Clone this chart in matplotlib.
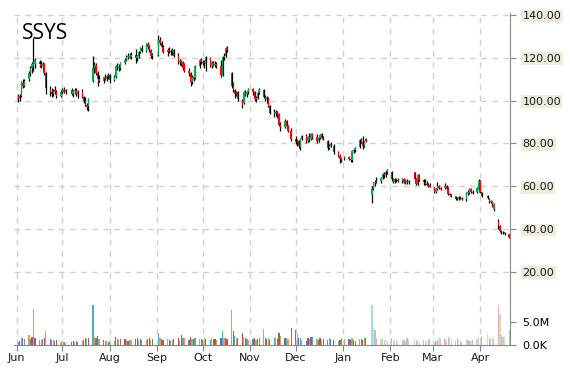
import numpy as np
import pandas as pd
import matplotlib
matplotlib.use("Agg")
import matplotlib.pyplot as plt
import matplotlib.dates as mdates
from matplotlib import colors

# daily data, Jun 2014 - Apr 2015
holidays = ["2014-07-04", "2014-09-01", "2014-11-27", "2014-12-25",
            "2015-01-01", "2015-01-19", "2015-02-16", "2015-04-03"]
dates = pd.bdate_range("2014-06-02", "2015-04-20", freq="C", holidays=holidays)

opens = [
    # Jun
    102, 101, 102, 108, 107, 110, 113, 115, 116, 117, 118, 117, 116, 117, 113, 105, 104, 103, 105, 104, 102,
    # Jul
    104, 105, 104, 105, 103, 104.5, 105, 103, 104, 101.5, 100, 98, 97.5, 109, 115, 116.5, 113, 110, 109, 111, 110, 111.5,
    # Aug
    112, 109.5, 111, 116, 115.5, 115, 117.5, 119, 120.5, 121, 120.5, 121.5, 120, 121, 122.5, 124.5, 123, 126.5, 125, 123.5, 121,
    # Sep
    121.5, 128.5, 127, 125, 122.5, 123.5, 123, 122.5, 123.5, 121, 118, 118.5, 118, 117, 114, 113, 108.5, 111, 110.5, 116, 119,
    # Oct
    118, 117.5, 117, 120, 116, 117.5, 116.5, 117, 116, 112, 120.5, 121, 124.5, 113, 108, 105, 103, 104, 100, 99, 104, 103, 104,
    # Nov
    105.5, 104, 100.5, 101, 103.5, 105, 101.5, 100.5, 101, 97.5, 94, 94.5, 94, 93.5, 88.5, 87.5, 90.5, 88, 86,
    # Dec
    82, 80.5, 81, 78.5, 82, 83.5, 81, 83, 82, 84.5, 83, 81, 82.5, 84.5, 82.5, 81, 78, 79, 79, 76, 74, 72.5,
    # Jan
    73, 73.5, 72.5, 72, 76.5, 77, 78.5, 81.5, 80.5, 79, 82, 56, 58.5, 61.5, 62, 62.5, 64, 65.5, 65, 66.5,
    # Feb
    66.5, 63.5, 62, 63.5, 63, 62.5, 63.5, 62, 62.5, 62, 66.5, 63.5, 61, 65, 63, 62, 61, 60.5, 60.5,
    # Mar
    59.5, 57.5, 58.5, 60, 59, 59, 60, 58.5, 56.5, 56, 55.5, 54.5, 54, 55, 54.5, 54, 57, 57, 58.5, 57.5, 57.5, 58,
    # Apr
    62.5, 57.5, 55.5, 54, 52.5, 52.5, 49.5, 43.5, 41.5, 39, 38.5, 37.8, 37.5,
]
highs = [
    103, 103, 109, 110, 110, 114, 116, 118, 129, 120, 119, 118.5, 118, 117.5, 113.5, 107, 106, 105.5, 107, 105, 105,
    106, 106.5, 105.5, 106, 105, 106, 106, 105, 105.5, 102, 101.5, 99, 101, 121, 118, 117.5, 114, 112, 111, 112.5, 112, 113,
    112.5, 112, 116.5, 117.5, 117, 118, 120, 121.5, 122, 122, 122.5, 124, 121.5, 123, 125, 126, 127, 127.5, 126, 124, 122,
    130.5, 129.5, 128, 126, 124.5, 125, 124, 124.5, 124, 122, 119.5, 119, 118.5, 117.5, 115, 113.5, 112, 112, 116.5, 119.5, 120,
    119, 119, 121, 120.5, 118.5, 118.5, 118.5, 118, 119, 121, 122, 125, 125.5, 113.5, 108.5, 105.5, 104.5, 104.5, 100.5, 104.5, 105, 104.5, 106,
    106, 104.5, 102, 104, 106, 105.5, 102.5, 102, 101.5, 98, 96, 95.5, 95, 94, 90, 91.5, 91, 88.5, 87,
    83.5, 82, 81.5, 82.5, 84, 84.5, 83.5, 85, 85, 85, 84.5, 83, 84.5, 85, 83.5, 81.5, 79.5, 80.5, 79.5, 76.5, 75, 73.5,
    74, 74, 73.5, 77, 77.5, 78.5, 82, 82.5, 83.5, 81, 82.5, 60, 62, 63, 64.5, 64.5, 66, 66.5, 67.5, 68,
    67, 64, 64, 64, 64, 64, 64, 63.5, 63.5, 63, 66.5, 64, 65.5, 65.5, 63.5, 63.3, 62.5, 61.5, 61.5,
    59.5, 59, 62, 60.5, 59.5, 61.5, 60.5, 59.5, 57, 56.5, 55.6, 55, 55.5, 55.5, 55, 57.5, 58, 59, 59, 58, 59.5, 63.5,
    63, 57.5, 56, 54.5, 53.4, 53, 52, 44.5, 42, 39.5, 39, 38.7, 37.8,
]
lows = [
    99.5, 100, 101.5, 106, 106.5, 109, 111.5, 113, 114, 115, 115.5, 115, 114.5, 112, 103, 102, 101.5, 102, 103, 101, 101.5,
    103, 103.5, 103, 102.5, 101.5, 103, 102, 101, 101, 99, 97.5, 95.5, 95, 108.5, 113, 112, 107, 108.5, 108, 109.5, 109, 110,
    108, 109, 110.5, 114.5, 114, 114.5, 117, 118.5, 119.5, 120, 119.5, 117.5, 118.5, 120, 122, 122.5, 122.5, 124, 122.5, 120, 119.5,
    121, 126, 124.5, 122, 121, 122, 121.5, 121.5, 120.5, 117, 116.5, 116, 114.5, 113.5, 111.5, 107, 107.5, 109, 110, 115, 117,
    116.5, 115, 114, 115.5, 115, 116, 115.5, 115, 111, 111.5, 119, 120.5, 122.5, 106, 104, 101, 102, 100, 96.5, 98.5, 102, 101.5, 103,
    102.5, 100, 99.5, 100.5, 103, 101, 100, 99, 97, 93.5, 92.5, 93, 92, 88, 86, 87, 86.5, 85.5, 81,
    79.5, 79, 78, 77, 81.5, 80, 80.5, 80.5, 81.5, 82, 80, 80.5, 82, 82, 81.5, 77, 77.5, 78.5, 75, 73.5, 71, 71.5,
    72, 72, 71.5, 71.5, 75.5, 76, 78, 80, 77.5, 78.5, 80.5, 52, 58, 60, 61.5, 61.5, 63.5, 64, 64.5, 65.5,
    62.5, 61.5, 61.5, 62, 62, 61.5, 61.5, 61, 61, 61, 63, 60.5, 60.5, 62.5, 60.5, 60.5, 60.4, 59.5, 59.5,
    57, 57, 58, 58.5, 58, 58.5, 58, 55.7, 55.5, 55, 53.5, 53.5, 53.5, 54, 53.5, 53, 56, 56.5, 57, 56.5, 57, 57.5,
    57, 55, 54, 52, 52, 50.5, 48.5, 40, 38.5, 37.8, 37.5, 37.3, 35.8,
]
closes = [
    101, 102, 108.5, 107, 109, 113, 115, 117, 118, 119, 117, 116, 117, 113, 106, 104, 103, 104.5, 104, 102, 104,
    105, 104, 105, 103, 104.5, 105, 103, 104, 101.5, 100, 98, 97, 100.5, 115, 116.5, 113, 110, 109, 111, 110, 111.5, 112,
    109.5, 111, 116, 115.5, 115, 117.5, 119, 120.5, 121, 120.5, 121.5, 120, 121, 122.5, 124.5, 123, 126.5, 125, 123.5, 121, 121.5,
    128.5, 127, 125, 122.5, 123.5, 123, 122.5, 123.5, 121, 118, 118.5, 117, 115, 114, 113, 108.5, 111, 110, 116, 119, 118,
    117.5, 118, 120.5, 116, 117.5, 116.5, 117, 116, 112, 120.5, 121, 124.5, 123.5, 107, 105, 103, 103.5, 100.5, 98, 104, 103, 104, 105.5,
    104, 100.5, 101, 103.5, 105, 101.5, 100.5, 101, 97.5, 94, 94.5, 94, 93.5, 88.5, 87.5, 90.5, 88, 86, 82,
    80.5, 81, 79, 82, 83.5, 81, 83, 82, 84.5, 83, 81, 82.5, 84, 82.5, 82, 78, 79, 79.5, 76, 74, 72.5, 73,
    73.5, 72.5, 72, 76.5, 77, 78, 81.5, 80.5, 79, 80.5, 81, 58.5, 61.5, 62, 61.8, 64, 65.5, 65, 66.5, 67.5,
    63.5, 62, 63.5, 63, 62.5, 63.5, 62, 62.5, 62, 62.5, 63.5, 61, 65, 63, 62, 61, 60.5, 60, 59.7,
    57.5, 58.5, 60, 59, 58.5, 60, 58.5, 56.5, 56, 55.5, 54, 54, 55, 54.5, 54, 57, 57.5, 58.5, 57.5, 57, 59, 62.5,
    57.5, 55.5, 54.5, 52.5, 53, 51, 51.5, 41.5, 39, 38.5, 38.4, 38.5, 36.2,
]
# volume in millions
volumes = [
    0.7, 0.9, 1.6, 1.4, 1.2, 2.1, 1.3, 1.8, 7.7, 1.5, 1.1, 1.0, 1.3, 1.4, 3.0, 1.2, 1.0, 1.1, 0.9, 1.0, 0.7,
    0.6, 0.7, 0.5, 0.6, 0.8, 0.7, 0.9, 0.6, 0.9, 1.0, 1.6, 1.2, 1.5, 8.6, 1.8, 1.4, 2.0, 1.3, 1.0, 0.9, 0.8, 0.7,
    0.6, 0.9, 1.8, 1.2, 1.0, 1.2, 1.3, 1.0, 0.9, 1.1, 1.0, 1.2, 1.4, 1.0, 1.3, 1.1, 1.0, 1.2, 1.4, 1.1, 1.3,
    2.6, 1.6, 1.2, 1.0, 1.3, 1.1, 0.8, 1.0, 1.2, 1.4, 1.1, 2.2, 1.6, 1.4, 1.0, 1.8, 1.3, 1.2, 1.5, 1.3, 1.2,
    1.1, 1.4, 1.3, 1.0, 1.4, 1.2, 1.3, 1.0, 1.6, 3.0, 1.4, 1.5, 1.3, 7.5, 3.0, 2.0, 1.6, 1.5, 2.6, 1.8, 1.4, 1.2, 1.1,
    1.3, 1.6, 1.0, 1.2, 1.5, 3.4, 1.6, 1.2, 1.5, 1.0, 1.4, 1.8, 1.3, 2.6, 2.0, 1.6, 1.4, 1.2, 3.6,
    3.3, 2.4, 1.6, 1.5, 1.0, 0.9, 1.6, 1.3, 1.7, 1.8, 1.2, 1.0, 1.6, 1.1, 1.3, 1.0, 1.4, 1.2, 1.0, 0.8, 1.1, 1.5,
    1.3, 1.2, 1.0, 1.4, 1.1, 0.9, 1.3, 1.2, 1.1, 1.4, 1.6, 8.6, 3.9, 3.2, 1.5, 1.2, 1.3, 1.1, 1.0, 0.9,
    1.6, 1.1, 0.8, 1.0, 0.6, 0.8, 1.1, 0.9, 1.4, 1.1, 1.2, 1.0, 0.8, 0.7, 1.0, 0.8, 0.9, 1.3, 1.1,
    0.7, 0.8, 1.0, 1.4, 1.3, 1.2, 0.8, 1.6, 1.7, 1.2, 0.9, 1.4, 1.1, 0.9, 0.7, 1.3, 1.1, 0.8, 0.9, 1.0, 1.3, 1.8,
    1.6, 2.0, 2.4, 1.5, 1.3, 1.7, 1.2, 8.6, 6.6, 2.2, 1.8, 1.7, 3.2,
]

x = mdates.date2num(dates)
o = np.array(opens); h = np.array(highs); l = np.array(lows); c = np.array(closes)
v = np.array(volumes) * 1e6

fig = plt.figure(figsize=(5.7, 3.7), dpi=100)
rect = [14/570, 25/370, 496/570, 332/370]
axv = fig.add_axes(rect)
ax = fig.add_axes(rect, sharex=axv)
ax.patch.set_alpha(0)

# volume bars
palette = ['#4f81bd', '#c0504d', '#9bbb59', '#8064a2', '#4bacc6', '#f79646']
fade = mdates.date2num(pd.Timestamp("2015-01-20"))
vcols = [colors.to_rgba(palette[i % len(palette)], 1.0 if x[i] < fade else 0.45)
         for i in range(len(x))]
axv.bar(x, v, width=0.8, color=vcols, linewidth=0)
axv.set_ylim(0, 5e6 * 332 / 23.3)
axv.yaxis.tick_right()
axv.set_yticks([0, 5e6])
axv.set_yticklabels(['0.0K', '5.0M'])
axv.tick_params(axis='y', direction='out', length=4, color='#888888', labelsize=8, pad=5)
axv.tick_params(axis='x', length=0, labelbottom=False)
for s in axv.spines.values():
    s.set_visible(False)

# candles
up = c >= o
ax.vlines(x, l, h, color='black', lw=0.9, zorder=3)
body = np.where(np.abs(c - o) < 0.3, 0.3, c - o)
ax.bar(x, body, bottom=o, width=0.9, color=np.where(up, '#00a651', '#ff0000'),
       linewidth=0, zorder=4)

ax.set_ylim(-14.2, 140.9)
ax.set_xlim(mdates.date2num(pd.Timestamp("2014-05-30 05:00")),
            mdates.date2num(pd.Timestamp("2015-04-20 14:00")))
ax.yaxis.tick_right()
ax.set_yticks(range(20, 141, 20))
ax.set_yticklabels(['%.2f' % t for t in range(20, 141, 20)])
ax.tick_params(axis='y', direction='out', length=4, color='#888888', labelsize=8, pad=5,
               labelcolor='#1a1a1a')
for t in ax.yaxis.get_major_ticks():
    t.label2.set_bbox(dict(facecolor='#efebdd', edgecolor='none', pad=1))

ax.xaxis.set_major_locator(mdates.MonthLocator())
ax.xaxis.set_major_formatter(mdates.DateFormatter('%b'))
ax.tick_params(axis='x', direction='out', length=4, color='#888888', labelsize=8, pad=2,
               labelcolor='#1a1a1a')

ax.grid(True, ls=(0, (4, 4)), color='#d0d0d0', lw=1)
ax.set_axisbelow(True)
for s in ['left', 'top']:
    ax.spines[s].set_visible(False)
for s in ['right', 'bottom']:
    ax.spines[s].set_color('#888888')

fig.text(22/570, 1 - 39/370, 'SSYS', fontsize=15, family='Open Sans', va='baseline')

fig.savefig('out.png', dpi=100)
